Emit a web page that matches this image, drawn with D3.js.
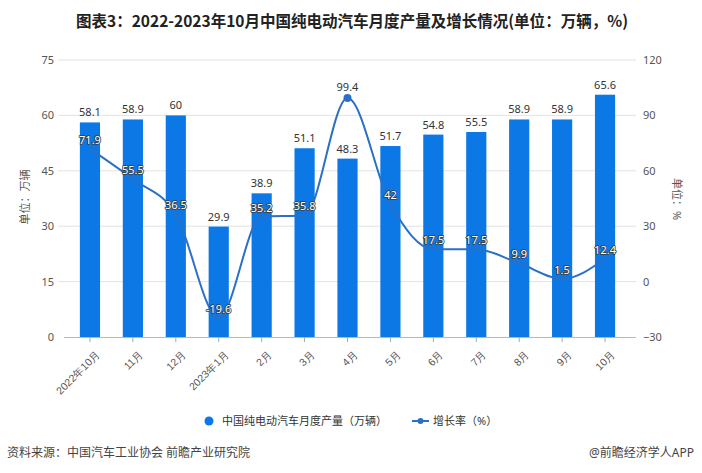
<!DOCTYPE html>
<html><head><meta charset="utf-8">
<script src="https://cdn.jsdelivr.net/npm/d3@7"></script>
<style>
body{margin:0;background:#fff;}
svg{display:block;font-family:"Noto Sans","Noto Sans CJK SC",sans-serif;}
</style></head>
<body><svg id="c" width="702" height="473"></svg>
<script>
const categories = ["2022年10月","11月","12月","2023年1月","2月","3月","4月","5月","6月","7月","8月","9月","10月"];
const production = [58.1,58.9,60,29.9,38.9,51.1,48.3,51.7,54.8,55.5,58.9,58.9,65.6];
const growth = [71.9,55.5,36.5,-19.6,35.2,35.8,99.4,42,17.5,17.5,9.9,1.5,12.4];
const leftTicks = [0,15,30,45,60,75];
const rightTicks = [-30,0,30,60,90,120];
const titleText = "图表3：2022-2023年10月中国纯电动汽车月度产量及增长情况(单位：万辆，%)";
const seriesNames = ["中国纯电动汽车月度产量（万辆）","增长率（%）"];
const sourceText = "资料来源：中国汽车工业协会 前瞻产业研究院";
const brandText = "@前瞻经济学人APP";

const svg = d3.select("#c");
const plotTop = 60, plotBottom = 337, gridL = 58, gridR = 636;
const barColor = "#0b78e6", lineColor = "#2a70c6";

const x = d3.scaleBand().domain(categories).range([68.5, 626.5]).paddingInner(0.53).paddingOuter(0.265);
const yL = d3.scaleLinear().domain([0,75]).range([plotBottom, plotTop]);
const yR = d3.scaleLinear().domain([-30,120]).range([plotBottom, plotTop]);

// title
svg.append("text").attr("x",352).attr("y",27).attr("text-anchor","middle")
  .attr("font-size",16).attr("font-weight","bold").attr("fill","#222")
  .attr("textLength",552).attr("lengthAdjust","spacingAndGlyphs")
  .attr("font-family","'Noto Sans CJK SC',sans-serif").text(titleText);

// gridlines
svg.append("g").selectAll("line").data(leftTicks.filter(d=>d>0)).join("line")
  .attr("x1",gridL).attr("x2",gridR).attr("y1",d=>yL(d)).attr("y2",d=>yL(d))
  .attr("stroke","#e3e3e3").attr("stroke-width",1);

// left axis labels
const gl = svg.append("g").attr("transform",`translate(${gridL},0)`)
  .call(d3.axisLeft(yL).tickValues(leftTicks).tickSize(0).tickPadding(4));
gl.select(".domain").remove();
gl.selectAll("text").attr("font-size",11).attr("fill","#555").attr("font-family","'Noto Sans',sans-serif");

// right axis labels
const gr = svg.append("g").attr("transform",`translate(${gridR},0)`)
  .call(d3.axisRight(yR).tickValues(rightTicks).tickSize(0).tickPadding(7));
gr.select(".domain").remove();
gr.selectAll("text").attr("font-size",11).attr("fill","#555").attr("font-family","'Noto Sans',sans-serif");

// bars
svg.append("g").selectAll("rect").data(production).join("rect")
  .attr("x",(d,i)=>x(categories[i])).attr("width",x.bandwidth())
  .attr("y",d=>yL(d)).attr("height",d=>yL(0)-yL(d)).attr("fill",barColor);

// bottom axis
const gx = svg.append("g").attr("transform",`translate(0,${plotBottom})`)
  .call(d3.axisBottom(x).tickSize(5).tickPadding(3));
gx.select(".domain").attr("d",`M${gridL+6},0.5H${gridR}`).attr("stroke","#b8b8b8");
gx.selectAll(".tick line").attr("stroke","#a8a8a8");
gx.selectAll(".tick text").attr("font-size",10.5).attr("fill","#555")
  .attr("text-anchor","end").attr("dy","0.3em")
  .attr("transform","translate(3,10) rotate(-45)");

// bar labels
svg.append("g").selectAll("text").data(production).join("text")
  .attr("x",(d,i)=>x(categories[i])+x.bandwidth()/2).attr("y",d=>yL(d)-6)
  .attr("text-anchor","middle").attr("font-size",11).attr("fill","#333").text(d=>d);

// line
const cx = i => x(categories[i]) + x.bandwidth()/2;
const line = d3.line().x((d,i)=>cx(i)).y(d=>yR(d)).curve(d3.curveMonotoneX);
svg.append("path").datum(growth).attr("d",line).attr("fill","none")
  .attr("stroke",lineColor).attr("stroke-width",2);
const mi = d3.maxIndex(growth);
svg.append("circle").attr("cx",cx(mi)).attr("cy",yR(growth[mi])).attr("r",4).attr("fill",lineColor);

// line labels
svg.append("g").selectAll("text").data(growth).join("text")
  .attr("x",(d,i)=>cx(i)).attr("y",(d,i)=>i===mi? yR(d)-7 : yR(d)-5)
  .attr("text-anchor","middle").attr("font-size",11)
  .attr("fill",(d,i)=>i===mi?"#333":"#fff")
  .attr("stroke",(d,i)=>i===mi?"none":"#3a3a3a").attr("stroke-width",1.6)
  .attr("paint-order","stroke").attr("stroke-linejoin","round")
  .text(d=>d);

// axis titles
svg.append("text").attr("transform","translate(29,197) rotate(-90)").attr("text-anchor","middle")
  .attr("font-size",11).attr("fill","#555").text("单位：万辆");
svg.append("text").attr("transform","translate(673,199) rotate(90)").attr("text-anchor","middle")
  .attr("font-size",11).attr("fill","#555").text("单位：%");

// legend
const lg = svg.append("g").attr("font-size",11).attr("fill","#333");
lg.append("circle").attr("cx",209).attr("cy",421).attr("r",4.5).attr("fill",barColor);
lg.append("text").attr("x",222).attr("y",425).text(seriesNames[0]);
lg.append("line").attr("x1",412).attr("x2",429).attr("y1",421).attr("y2",421).attr("stroke",lineColor).attr("stroke-width",2);
lg.append("circle").attr("cx",420.5).attr("cy",421).attr("r",3).attr("fill",lineColor);
lg.append("text").attr("x",433).attr("y",425).text(seriesNames[1]);

// footer
svg.append("text").attr("x",7).attr("y",457).attr("font-size",12).attr("fill","#444").text(sourceText);
svg.append("text").attr("x",694).attr("y",457).attr("text-anchor","end").attr("font-size",12).attr("fill","#444").text(brandText);
</script></body></html>
